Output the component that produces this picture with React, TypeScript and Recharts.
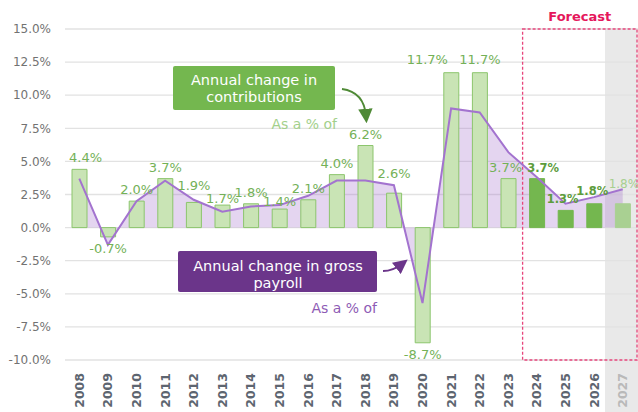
import { ComposedChart, Bar, Area, Line, XAxis, YAxis, CartesianGrid, ReferenceArea, LabelList, Cell } from 'recharts'

const years = ['2008', '2009', '2010', '2011', '2012', '2013', '2014', '2015', '2016', '2017', '2018', '2019', '2020', '2021', '2022', '2023', '2024', '2025', '2026', '2027']
const contributions = [4.4, -0.7, 2.0, 3.7, 1.9, 1.7, 1.8, 1.4, 2.1, 4.0, 6.2, 2.6, -8.7, 11.7, 11.7, 3.7, 3.7, 1.3, 1.8, 1.8]
const grossPayroll = [3.7, -1.3, 2.0, 3.55, 2.1, 1.2, 1.6, 1.7, 2.4, 3.55, 3.55, 3.2, -5.7, 9.0, 8.7, 5.7, 3.8, 1.8, 2.3, 2.9]
const forecastYears = ['2024', '2025', '2026']
const fadedYear = '2027'
const yTicks = [-10, -7.5, -5, -2.5, 0, 2.5, 5, 7.5, 10, 12.5, 15]

const FONT = '"DejaVu Sans", sans-serif'

const data = years.map((year, i) => ({ year, contrib: contributions[i], payroll: grossPayroll[i] }))

// small manual nudges so labels dodge the line and each other, like in the original
const labelNudge: Record<string, [number, number]> = {
  '2008': [6, 0], '2012': [0, 5], '2013': [0, -5], '2015': [0, -4], '2019': [0, 8],
  '2021': [-24, 2], '2022': [0, 2], '2023': [-3, 0], '2024': [6, 0], '2025': [-3, 0], '2026': [-2, 2], '2027': [1, 9],
}

function barFill(year: string) {
  if (forecastYears.includes(year)) return '#74b74f'
  if (year === fadedYear) return '#a9d092'
  return '#c9e4b5'
}

function barStroke(year: string) {
  if (forecastYears.includes(year)) return '#74b74f'
  if (year === fadedYear) return '#a9d092'
  return '#8cc56d'
}

function BarLabel(props: any) {
  const { x, y, width, height, value, index } = props
  const year = years[index]
  const top = Math.min(y, y + height)
  const bottom = Math.max(y, y + height)
  const [dx, dy] = labelNudge[year] ?? [0, 0]
  const cx = x + width / 2 + dx
  const txt = `${Number(value).toFixed(1)}%`
  let fill = '#74b157'
  let weight: any = 'normal'
  let size = 13
  if (forecastYears.includes(year)) { fill = '#5c9c3b'; weight = 'bold'; size = 11.5 }
  if (year === fadedYear) { fill = '#a7cf90'; size = 12 }
  const ty = value < 0 ? bottom + 16 : top - 7 - dy
  return (
    <text x={cx} y={ty} textAnchor="middle" fill={fill} fontSize={size} fontWeight={weight} fontFamily={FONT}>
      {txt}
    </text>
  )
}

function YearTick(props: any) {
  const { x, y, payload } = props
  const faded = payload.value === fadedYear
  return (
    <text transform={`translate(${x},${y + 5}) rotate(-90)`} textAnchor="end" dy="0.36em"
      fill={faded ? '#b9b9b9' : '#5d6570'} fontSize={12.5} fontWeight="bold" fontFamily={FONT}>
      {payload.value}
    </text>
  )
}

export default function App() {
  return (
    <div style={{ position: 'absolute', left: 0, top: 0, width: 638, height: 412, background: '#fff' }}>
      {/* grey band behind the last (faded) forecast year, runs down through the axis labels */}
      <div style={{ position: 'absolute', left: 605, top: 28, width: 33, height: 384, background: '#e9e9e9' }} />
      <ComposedChart width={638} height={412} data={data} margin={{ top: 29, right: 1, bottom: 0, left: 0 }}>
        <CartesianGrid vertical={false} stroke="#e2e2e2" strokeWidth={1.3} />
        <XAxis dataKey="year" axisLine={false} tickLine={false} interval={0} height={52} tick={<YearTick />} />
        <YAxis domain={[-10, 15]} ticks={yTicks} axisLine={false} tickLine={false} width={65} tickMargin={8}
          tickFormatter={(v: number) => `${v.toFixed(1)}%`}
          tick={{ fill: '#727272', fontSize: 12, fontFamily: FONT }} />
        <Area dataKey="payroll" type="linear" fill="#9b64c8" fillOpacity={0.27} stroke="none" isAnimationActive={false} />
        <Bar dataKey="contrib" barSize={15} isAnimationActive={false}>
          {data.map(d => <Cell key={d.year} fill={barFill(d.year)} stroke={barStroke(d.year)} strokeWidth={1} />)}
          <LabelList dataKey="contrib" content={<BarLabel />} />
        </Bar>
        <Line dataKey="payroll" type="linear" stroke="#a373cf" strokeWidth={2} dot={false} activeDot={false} isAnimationActive={false} />
        <ReferenceArea x1="2024" x2="2027" y1={-10} y2={15} fill="none" stroke="#e8457c" strokeWidth={1.3} strokeDasharray="3 2"
          label={{ value: 'Forecast', position: 'top', offset: 8, fill: '#e5175c', fontSize: 13, fontWeight: 'bold', fontFamily: FONT }} />
      </ComposedChart>
      <svg width={638} height={412} style={{ position: 'absolute', left: 0, top: 0, pointerEvents: 'none' }}>
        <defs>
          <marker id="ag" markerWidth="8" markerHeight="8" refX="4" refY="4" orient="auto">
            <path d="M0,0 L8,4 L0,8 z" fill="#4f8a36" />
          </marker>
          <marker id="ap" markerWidth="8" markerHeight="8" refX="4" refY="4" orient="auto">
            <path d="M0,0 L8,4 L0,8 z" fill="#6b358a" />
          </marker>
        </defs>
        <rect x={173} y={66} width={162} height={44} rx={2} fill="#74b74f" />
        <text x={254} y={85} textAnchor="middle" fill="#fff" fontSize={14.5} fontFamily={FONT}>Annual change in</text>
        <text x={254} y={102} textAnchor="middle" fill="#fff" fontSize={14.5} fontFamily={FONT}>contributions</text>
        <text x={337} y={129} textAnchor="end" fill="#a3d08b" fontSize={14} fontFamily={FONT}>As a % of</text>
        <path d="M342,89 Q364,92 366,116" fill="none" stroke="#4f8a36" strokeWidth={1.8} markerEnd="url(#ag)" />

        <rect x={178} y={251} width={199} height={41} rx={2} fill="#6b358a" />
        <text x={278} y={271} textAnchor="middle" fill="#fff" fontSize={14.5} fontFamily={FONT}>Annual change in gross</text>
        <text x={278} y={288} textAnchor="middle" fill="#fff" fontSize={14.5} fontFamily={FONT}>payroll</text>
        <text x={377} y={313} textAnchor="end" fill="#8e5bb5" fontSize={14} fontFamily={FONT}>As a % of</text>
        <path d="M383,271 Q393,271 402,264" fill="none" stroke="#6b358a" strokeWidth={1.8} markerEnd="url(#ap)" />
      </svg>
    </div>
  )
}
